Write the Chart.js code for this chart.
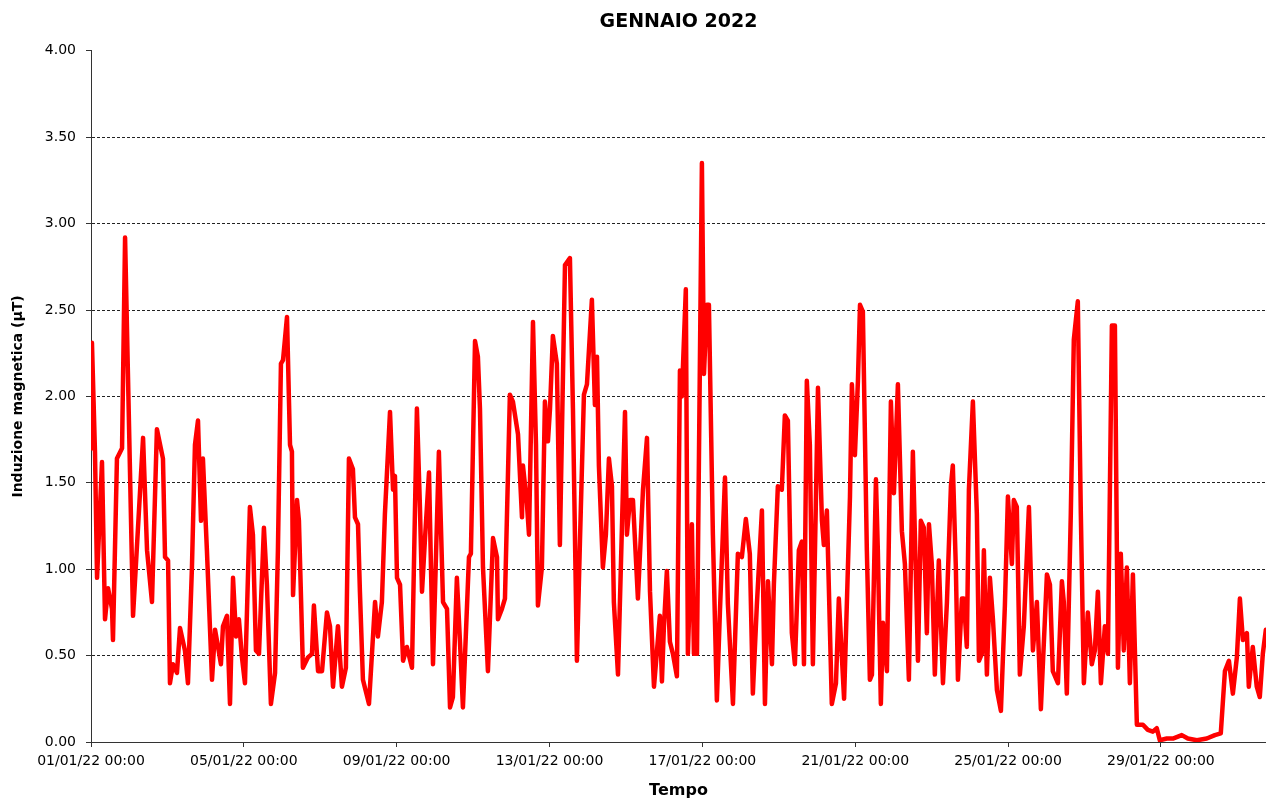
<!DOCTYPE html>
<html>
<head>
<meta charset="utf-8">
<title>Gennaio 2022</title>
<script src="https://cdn.jsdelivr.net/npm/chart.js@4.4.1/dist/chart.umd.min.js"></script>
<style>
    body { margin: 0; background: #fff; }
    #box { width: 1266px; height: 801px; }
</style>
</head>
<body>
<div id="box"><canvas id="grafico"></canvas></div>
<script>
// ore dall'01/01/22 00:00
const ore = [
    0, 0.6, 2.5, 3.8, 6.9, 8.8, 10.7, 13.2, 13.8, 16.3, 19.5, 21.4, 23.2, 26.4, 32.7, 35.2, 38.3, 41.4, 45.2, 46.5,
    48.4, 49.6, 51.5, 54.0, 55.9, 59.0, 60.9, 63.4, 65.3, 67.2, 69.1, 70.3, 72.8, 76.0, 77.9, 79.8, 81.6, 82.9, 85.4, 87.3,
    89.2, 91.1, 92.9, 94.8, 96.7, 99.8, 101.7, 103.6, 105.5, 108.6, 110.5, 113.0, 115.6, 117.4, 119.3, 120.6, 123.1, 125.0, 126.2, 126.9,
    129.4, 130.6, 133.1, 136.3, 138.8, 140.0, 142.6, 145.1, 148.2, 150.1, 152.0, 155.1, 157.6, 160.1, 162.0, 164.5, 165.8, 167.7, 168.9, 170.8,
    174.6, 178.4, 180.2, 182.7, 184.6, 187.8, 189.7, 190.9, 192.2, 194.1, 196.0, 198.4, 201.6, 204.7, 206.6, 207.9, 209.8, 212.3, 214.8, 218.5,
    221.1, 223.6, 225.5, 227.3, 229.8, 231.7, 233.6, 237.4, 238.6, 241.2, 243.0, 244.3, 246.2, 249.3, 252.5, 255.0, 255.6, 258.1, 260.0, 263.1,
    265.0, 268.2, 270.7, 271.3, 273.8, 275.1, 277.6, 279.5, 280.7, 283.2, 285.1, 287.0, 288.3, 290.1, 292.6, 294.5, 297.7, 300.8, 302.7, 305.2,
    307.1, 309.6, 311.5, 314.6, 316.5, 317.8, 319.0, 321.5, 323.4, 325.3, 327.2, 328.4, 331.0, 335.4, 336.6, 338.5, 340.4, 343.5, 346.7, 349.2,
    351.1, 353.6, 357.3, 358.6, 359.8, 361.7, 363.6, 365.5, 368.0, 369.9, 371.1, 373.6, 374.9, 377.4, 378.7, 380.6, 383.7, 385.0, 386.8, 388.1,
    390.6, 393.1, 395.0, 398.2, 400.0, 403.2, 406.3, 408.8, 411.3, 413.8, 415.7, 418.2, 421.4, 423.3, 425.2, 427.7, 428.9, 431.4, 433.9, 435.8,
    437.7, 440.2, 442.1, 444.6, 446.5, 447.8, 449.6, 451.5, 453.4, 456.6, 459.1, 460.3, 462.2, 465.3, 467.9, 469.7, 473.0, 476.7, 477.9, 479.8,
    481.7, 483.0, 484.8, 487.3, 489.2, 490.5, 493.0, 494.2, 496.1, 497.4, 499.9, 502.4, 504.3, 506.8, 509.3, 511.2, 513.7, 516.2, 519.4, 521.2,
    523.1, 525.0, 526.3, 528.1, 530.0, 532.5, 535.1, 537.6, 540.1, 541.3, 543.2, 544.5, 547.0, 548.2, 550.1, 551.4, 553.9, 556.4, 557.7, 559.5,
    560.8, 562.7, 564.6, 566.5, 569.0, 571.5, 574.0, 575.9, 578.4, 579.6, 581.5, 583.4, 585.9, 589.1, 591.6, 594.1, 596.6, 600.4, 602.3, 604.1,
    607.3, 609.8, 611.0, 612.9, 615.4, 617.3, 619.8, 621.7, 623.6, 626.1, 628.6, 630.5, 632.4, 634.3, 636.8, 638.7, 641.2, 643.1, 645.0, 646.8,
    648.7, 650.6, 652.5, 654.4, 656.9, 660.7, 663.8, 666.9, 669.4, 671.3, 675.7, 679.5, 685.1, 688.9, 694.6, 700.8, 705.9, 709.6, 712.2, 714.7,
    717.2, 719.7, 721.6, 723.5, 726.0, 727.2, 729.7, 732.2, 734.1, 736.0, 737.9
];

// induzione magnetica (µT)
const valori = [
    1.70, 2.31, 1.68, 0.95, 1.62, 0.71, 0.89, 0.77, 0.59, 1.64, 1.70, 2.92, 2.13, 0.73, 1.76, 1.11, 0.81, 1.81, 1.64, 1.07,
    1.05, 0.34, 0.45, 0.40, 0.66, 0.53, 0.34, 1.01, 1.72, 1.86, 1.28, 1.64, 1.11, 0.36, 0.65, 0.55, 0.45, 0.67, 0.73, 0.22,
    0.95, 0.61, 0.71, 0.49, 0.34, 1.36, 1.20, 0.53, 0.51, 1.24, 0.91, 0.22, 0.40, 1.11, 2.19, 2.21, 2.46, 1.72, 1.68, 0.85,
    1.40, 1.28, 0.43, 0.49, 0.51, 0.79, 0.41, 0.41, 0.75, 0.67, 0.32, 0.67, 0.32, 0.43, 1.64, 1.58, 1.30, 1.26, 0.87, 0.36,
    0.22, 0.81, 0.61, 0.81, 1.32, 1.91, 1.46, 1.54, 0.95, 0.91, 0.47, 0.55, 0.43, 1.93, 1.36, 0.87, 1.18, 1.56, 0.45, 1.68,
    0.81, 0.77, 0.20, 0.26, 0.95, 0.59, 0.20, 1.07, 1.09, 2.32, 2.23, 1.93, 1.01, 0.41, 1.18, 1.07, 0.71, 0.77, 0.83, 2.01,
    1.97, 1.78, 1.30, 1.60, 1.38, 1.20, 2.43, 1.72, 0.79, 1.01, 1.97, 1.74, 1.93, 2.35, 2.19, 1.14, 2.76, 2.80, 1.93, 0.47,
    1.16, 2.01, 2.07, 2.56, 1.95, 2.23, 1.60, 1.01, 1.20, 1.64, 1.48, 0.81, 0.39, 1.91, 1.20, 1.40, 1.40, 0.83, 1.46, 1.76,
    0.87, 0.32, 0.73, 0.35, 0.66, 0.99, 0.58, 0.51, 0.38, 2.15, 2.00, 2.62, 0.51, 1.26, 0.51, 0.51, 3.35, 2.13, 2.53, 2.53,
    1.20, 0.24, 0.75, 1.53, 0.80, 0.22, 1.09, 1.07, 1.29, 1.09, 0.28, 0.79, 1.34, 0.22, 0.93, 0.45, 0.91, 1.48, 1.46, 1.89,
    1.86, 0.63, 0.45, 1.11, 1.16, 0.45, 2.09, 1.72, 0.45, 2.05, 1.28, 1.14, 1.34, 0.22, 0.34, 0.83, 0.25, 1.42, 2.07, 1.66,
    2.09, 2.53, 2.49, 1.11, 0.36, 0.39, 1.52, 1.11, 0.22, 0.69, 0.41, 1.97, 1.44, 2.07, 1.22, 1.03, 0.36, 1.68, 0.47, 1.28,
    1.24, 0.63, 1.26, 1.03, 0.39, 1.05, 0.34, 0.81, 1.48, 1.60, 1.01, 0.36, 0.83, 0.83, 0.55, 1.46, 1.97, 1.32, 0.47, 0.51,
    1.11, 0.39, 0.95, 0.71, 0.30, 0.18, 0.79, 1.42, 1.03, 1.40, 1.36, 0.39, 0.67, 1.36, 0.53, 0.81, 0.19, 0.97, 0.91, 0.41,
    0.34, 0.93, 0.81, 0.28, 1.32, 2.33, 2.55, 1.32, 0.34, 0.75, 0.45, 0.53, 0.87, 0.34, 0.67, 0.51, 2.41, 2.41, 0.43, 1.09,
    0.53, 1.01, 0.34, 0.97, 0.10, 0.10, 0.07, 0.06, 0.08, 0.01, 0.02, 0.02, 0.04, 0.02, 0.01, 0.02, 0.04, 0.05, 0.41, 0.47,
    0.28, 0.49, 0.83, 0.59, 0.63, 0.32, 0.55, 0.32, 0.26, 0.51, 0.65
];

// etichette asse x
const tickOre = [0, 96, 192, 288, 384, 480, 576, 672];
const tickEtichette = ['01/01/22 00:00', '05/01/22 00:00', '09/01/22 00:00', '13/01/22 00:00',
    '17/01/22 00:00', '21/01/22 00:00', '25/01/22 00:00', '29/01/22 00:00'];

const FONT = "'DejaVu Sans', sans-serif";

const punti = ore.map((h, i) => ({ x: h, y: valori[i] }));

new Chart(document.getElementById('grafico').getContext('2d'), {
    type: 'line',
    data: {
        datasets: [{
            label: 'Induzione magnetica',
            data: punti,
            borderColor: '#ff0000',
            borderWidth: 4.5,
            borderJoinStyle: 'round',
            borderCapStyle: 'round',
            pointRadius: 0,
            tension: 0,
            fill: false
        }]
    },
    options: {
        responsive: true,
        maintainAspectRatio: false,
        animation: false,
        layout: { padding: 0 },
        plugins: {
            legend: { display: false },
            tooltip: { enabled: false },
            title: {
                display: true,
                text: 'GENNAIO 2022',
                fullSize: false,
                color: '#000',
                font: { family: FONT, size: 19, weight: 'bold' },
                padding: { top: 11, bottom: 17 }
            }
        },
        scales: {
            x: {
                type: 'linear',
                min: 0,
                max: 738,
                afterBuildTicks: function (scale) {
                    scale.ticks = tickOre.map(v => ({ value: v }));
                },
                afterFit: function (scale) {
                    scale.height = 59;
                },
                ticks: {
                    autoSkip: false,
                    maxRotation: 0,
                    padding: 6,
                    color: '#000',
                    font: { family: FONT, size: 14 },
                    callback: function (value) {
                        const i = tickOre.indexOf(value);
                        return i >= 0 ? tickEtichette[i] : '';
                    }
                },
                grid: {
                    drawOnChartArea: false,
                    drawTicks: true,
                    tickLength: 5,
                    tickColor: '#333'
                },
                border: { color: '#333', width: 1 },
                title: {
                    display: true,
                    text: 'Tempo',
                    color: '#000',
                    font: { family: FONT, size: 16, weight: 'bold' },
                    padding: { top: 2, bottom: 1 }
                }
            },
            y: {
                min: 0,
                max: 4,
                afterFit: function (scale) {
                    scale.width = 91;
                },
                ticks: {
                    stepSize: 0.5,
                    padding: 10,
                    color: '#000',
                    font: { family: FONT, size: 14 },
                    callback: v => v.toFixed(2)
                },
                grid: {
                    color: ctx => (ctx.tick && ctx.tick.value === 4) ? 'rgba(0,0,0,0)' : '#222',
                    lineWidth: 1,
                    tickLength: 5,
                    tickColor: '#333'
                },
                border: { color: '#333', width: 1, dash: [3, 2] },
                title: {
                    display: true,
                    text: 'Induzione magnetica (µT)',
                    color: '#000',
                    font: { family: FONT, size: 14, weight: 'bold' },
                    padding: { top: 10, bottom: 0 }
                }
            }
        }
    }
});
</script>
</body>
</html>
